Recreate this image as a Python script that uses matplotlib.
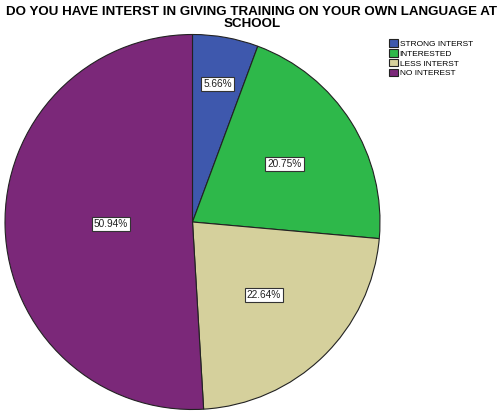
import numpy as np
import matplotlib

matplotlib.use("Agg")
import matplotlib.pyplot as plt

plt.rcParams["font.family"] = ["Liberation Sans", "DejaVu Sans"]

# respostas da pergunta (percentual)
categorias = ["STRONG INTERST", "INTERESTED", "LESS INTERST", "NO INTEREST"]
percentuais = [5.66, 20.75, 22.64, 50.94]
rotulos = ["5.66%", "20.75%", "22.64%", "50.94%"]
cores = ["#3e58ad", "#2eb84a", "#d5d09c", "#7b2879"]
dist_rotulo = [0.75, 0.58, 0.545, 0.435]  # raio relativo de cada rótulo

W, H = 504, 411
fig = plt.figure(figsize=(W / 100, H / 100), dpi=100)

cx, cy, r = 192.5, 222.0, 187.5  # px, origem no topo
ax = fig.add_axes([(cx - r) / W, (H - cy - r) / H, 2 * r / W, 2 * r / H])

fatias, _ = ax.pie(
    percentuais, colors=cores, startangle=90, counterclock=False,
    radius=1.0, wedgeprops=dict(edgecolor="#222222", linewidth=0.8),
)
ax.set_xlim(-1, 1)
ax.set_ylim(-1, 1)
ax.set_aspect("equal")
ax.axis("off")

for fatia, txt, d in zip(fatias, rotulos, dist_rotulo):
    ang = np.deg2rad((fatia.theta1 + fatia.theta2) / 2)
    ax.text(d * np.cos(ang), d * np.sin(ang), txt, ha="center", va="center",
            fontsize=7.3, color="#222222",
            bbox=dict(boxstyle="square,pad=0.2", fc="white", ec="#333333", lw=0.8))

fig.text(0.5, 1 - 6 / H, "DO YOU HAVE INTERST IN GIVING TRAINING ON YOUR OWN LANGUAGE AT\nSCHOOL",
         ha="center", va="top", fontsize=9.6, weight="bold", linespacing=1.05)

leg = fig.legend(fatias, categorias, loc="upper left",
                 bbox_to_anchor=(386 / W, 1 - 36 / H), frameon=False,
                 fontsize=6, handlelength=1.0, handleheight=1.0,
                 handletextpad=0.25, labelspacing=0.15, borderaxespad=0)

fig.savefig("out.png", dpi=100)
